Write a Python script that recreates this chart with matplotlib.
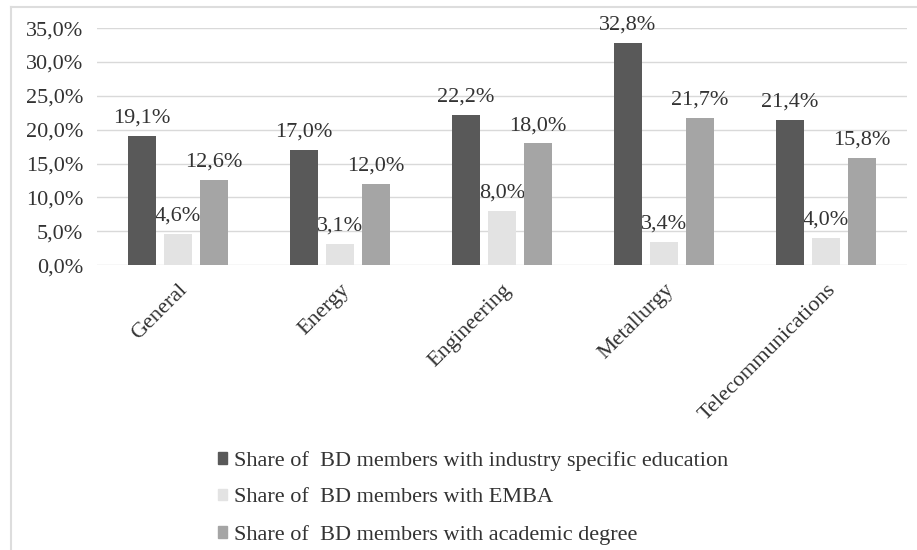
import numpy as np
import matplotlib.pyplot as plt
from matplotlib.lines import Line2D

# data
categories = ['General', 'Energy', 'Engineering', 'Metallurgy', 'Telecommunications']
industry_edu = [19.1, 17.0, 22.2, 32.8, 21.4]
emba = [4.6, 3.1, 8.0, 3.4, 4.0]
academic = [12.6, 12.0, 18.0, 21.7, 15.8]
series_names = ['Share of  BD members with industry specific education',
                'Share of  BD members with EMBA',
                'Share of  BD members with academic degree']
yticks = [0, 5, 10, 15, 20, 25, 30, 35]

colors = ['#595959', '#e3e3e3', '#a5a5a5']
plt.rcParams['font.family'] = ['Liberation Serif', 'DejaVu Serif']

fig = plt.figure(figsize=(9.17, 5.5), dpi=100)
ax = fig.add_axes([0.106, 0.518, 0.883, 0.431])

x = np.arange(len(categories))
w = 0.173
step = 0.222
for i, (vals, c) in enumerate(zip([industry_edu, emba, academic], colors)):
    pos = x + (i - 1) * step
    ax.bar(pos, vals, width=w, color=c, zorder=3, label=series_names[i])
    for p, v in zip(pos, vals):
        ax.text(p, v + 1.2, f'{v:.1f}%'.replace('.', ','), ha='center', va='bottom',
                fontsize=16, color='#333333', zorder=2)

ax.set_xlim(-0.5, len(categories) - 0.5)
ax.set_ylim(0, 35)
ax.set_yticks(yticks)
ax.set_yticklabels([f'{t:.1f}%'.replace('.', ',') for t in yticks], fontsize=16, color='#333333')
ax.set_xticks(x)
ax.set_xticklabels(categories, rotation=45, ha='right', rotation_mode='anchor',
                   fontsize=16, color='#333333')
ax.tick_params(length=0)
ax.tick_params(axis='y', pad=10)
ax.tick_params(axis='x', pad=11)
ax.grid(axis='y', color='#d9d9d9', linewidth=1, zorder=0)
for s in ax.spines.values():
    s.set_visible(False)

handles = [plt.Rectangle((0, 0), 1, 1, color=c) for c in colors]
fig.legend(handles, series_names, loc='upper left', bbox_to_anchor=(0.216, 0.216),
           frameon=False, fontsize=16, handlelength=0.42, handleheight=0.42,
           handletextpad=0.3, labelspacing=0.78, labelcolor='#333333')

# light frame on the top and left edges
fig.add_artist(Line2D([0.012, 0.012], [0, 0.987], color='#dddddd', lw=1.5))
fig.add_artist(Line2D([0.012, 1.0], [0.987, 0.987], color='#dddddd', lw=1.5))

fig.savefig('out.png', dpi=100)
